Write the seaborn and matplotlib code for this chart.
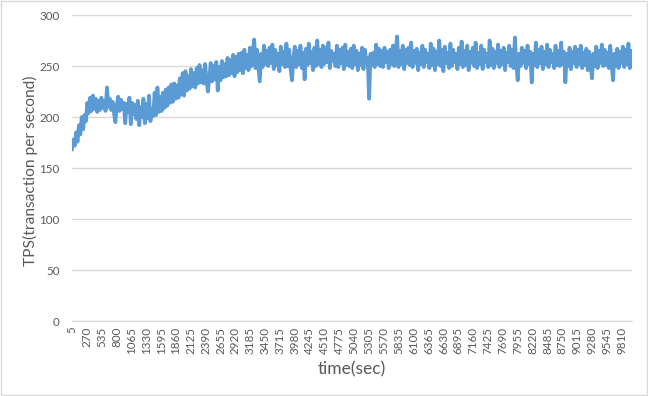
import numpy as np
import pandas as pd
import matplotlib
matplotlib.use("Agg")
import matplotlib.pyplot as plt
import seaborn as sns

# TPS values, one value every 25 sec (rows = 500 sec)
tps = [
    168, 178, 172, 185, 176, 192, 183, 200, 188, 202, 196, 214, 204, 219, 206, 221, 208, 218, 205, 216,
    207, 219, 209, 216, 206, 229, 210, 218, 207, 215, 204, 195, 212, 220, 206, 217, 208, 214, 194, 213,
    205, 219, 193, 214, 203, 212, 198, 216, 192, 210, 200, 218, 194, 213, 199, 221, 196, 208, 201, 224,
    202, 229, 205, 220, 206, 224, 209, 227, 211, 229, 214, 232, 215, 233, 218, 231, 219, 238, 222, 243,
    221, 245, 226, 240, 228, 247, 230, 243, 229, 248, 233, 251, 234, 246, 233, 252, 236, 225, 238, 253,
    235, 250, 237, 254, 226, 249, 236, 255, 239, 252, 240, 258, 241, 256, 243, 261, 240, 259, 244, 262,
    246, 263, 243, 266, 248, 261, 246, 268, 250, 264, 276, 248, 266, 251, 235, 262, 249, 270, 252, 265,
    250, 268, 253, 271, 247, 266, 251, 262, 245, 269, 252, 264, 249, 272, 250, 266, 247, 236, 258, 269,
    249, 265, 252, 270, 248, 263, 237, 267, 251, 272, 253, 264, 246, 268, 250, 275, 252, 266, 249, 270,
    252, 268, 254, 273, 248, 265, 255, 262, 250, 270, 249, 266, 253, 268, 247, 271, 251, 264, 250, 267,
    248, 270, 252, 265, 246, 262, 251, 268, 247, 266, 253, 258, 218, 262, 251, 263, 249, 271, 252, 267,
    250, 265, 249, 268, 254, 264, 248, 266, 252, 270, 250, 266, 279, 249, 265, 252, 270, 247, 266, 253,
    268, 251, 273, 249, 265, 253, 267, 246, 263, 252, 270, 249, 266, 254, 262, 248, 272, 251, 267, 246,
    264, 252, 275, 250, 266, 245, 269, 253, 263, 248, 272, 250, 266, 254, 262, 247, 268, 252, 274, 249,
    265, 251, 270, 246, 264, 253, 268, 250, 273, 248, 263, 252, 270, 247, 266, 254, 262, 249, 275, 251,
    267, 248, 264, 253, 271, 249, 265, 252, 268, 246, 263, 254, 270, 250, 266, 248, 278, 252, 236, 262,
    250, 268, 253, 265, 248, 270, 252, 264, 234, 262, 251, 273, 249, 266, 253, 269, 247, 264, 252, 271,
    249, 266, 254, 262, 248, 270, 251, 265, 250, 273, 252, 264, 234, 262, 250, 268, 247, 264, 253, 269,
    249, 266, 252, 270, 248, 263, 251, 267, 246, 264, 252, 238, 262, 250, 269, 248, 265, 253, 271, 250,
    266, 251, 263, 248, 270, 252, 236, 262, 250, 267, 248, 264, 253, 269, 249, 266, 252, 272, 248, 265,
]
time_sec = np.arange(5, 5 + 25 * len(tps), 25)

x_ticks = [5, 270, 535, 800, 1065, 1330, 1595, 1860, 2125, 2390, 2655, 2920,
           3185, 3450, 3715, 3980, 4245, 4510, 4775, 5040, 5305, 5570, 5835,
           6100, 6365, 6630, 6895, 7160, 7425, 7690, 7955, 8220, 8485, 8750,
           9015, 9280, 9545, 9810]
y_ticks = [0, 50, 100, 150, 200, 250, 300]

df = pd.DataFrame({"time": time_sec, "tps": tps})

sns.set_style("white")
plt.rcParams["font.family"] = ["Lato", "DejaVu Sans"]

fig = plt.figure(figsize=(6.48, 3.96), dpi=100)
ax = fig.add_axes([0.111, 0.189, 0.864, 0.773])

sns.lineplot(data=df, x="time", y="tps", color="#5B9BD5", linewidth=2.7, ax=ax)

ax.set_xlim(5, 9990)
ax.set_ylim(0, 300)
ax.set_yticks(y_ticks)
ax.set_xticks(x_ticks)
ax.set_xticklabels([str(t) for t in x_ticks], rotation=90)
ax.tick_params(axis="both", length=0, labelsize=8.4, labelcolor="#595959")
ax.tick_params(axis="y", pad=9)
ax.tick_params(axis="x", pad=4)
ax.yaxis.grid(True, color="#d9d9d9", linewidth=1)
ax.set_axisbelow(True)
for s in ["top", "right", "left"]:
    ax.spines[s].set_visible(False)
ax.spines["bottom"].set_color("#d9d9d9")

ax.set_xlabel("time(sec)", fontsize=12.5, color="#595959", labelpad=5)
ax.set_ylabel("TPS(transaction per second)", fontsize=11.2, color="#595959")
ax.yaxis.set_label_coords(-0.061, 0.49)

# chart border
fig.patches.append(plt.Rectangle((0.002, 0.003), 0.996, 0.994, transform=fig.transFigure,
                                 fill=False, edgecolor="#d9d9d9", linewidth=1))

fig.savefig("out.png", dpi=100)
